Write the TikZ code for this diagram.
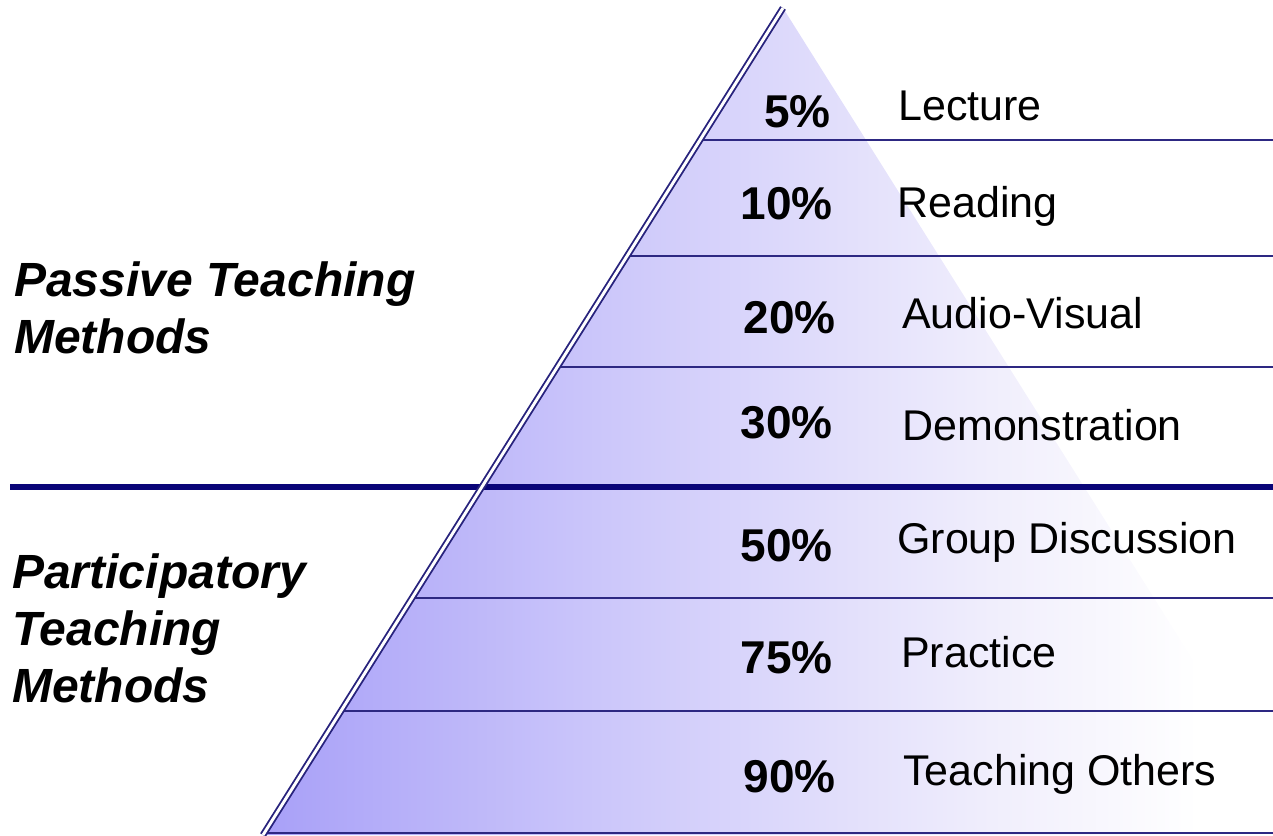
\documentclass[tikz,border=0pt]{standalone}
\usepackage{fontspec}
\setmainfont{Liberation Sans}
\definecolor{pyrfill}{RGB}{168,160,248}
\definecolor{pyrmid}{RGB}{203,198,250}
\definecolor{pyrlight}{RGB}{240,238,252}
\definecolor{thinline}{RGB}{45,40,130}
\definecolor{thickline}{RGB}{10,5,120}
\definecolor{edgeline}{RGB}{40,35,125}
\pgfdeclarehorizontalshading{pyrshade}{100bp}{color(0bp)=(pyrfill); color(25bp)=(pyrfill); color(41bp)=(pyrmid); color(60bp)=(pyrlight); color(70bp)=(white); color(100bp)=(white)}
\begin{document}
\begin{tikzpicture}[x=0.75pt,y=-0.75pt,
  pct/.style={inner sep=0pt,anchor=base east,font=\fontsize{34.5}{40}\selectfont\bfseries},
  lbl/.style={inner sep=0pt,anchor=base west,font=\fontsize{32.25}{38}\selectfont},
  grp/.style={inner sep=0pt,anchor=base west,align=left,font=\fontsize{36}{42.75}\selectfont\bfseries\itshape},
  thinrule/.style={draw=thinline,line width=1.6pt},
  thickrule/.style={draw=thickline,line width=4.4pt},
  edgerule/.style={draw=edgeline,line width=1.4pt,double=white,double distance=2.2pt}]
\useasboundingbox (0,0) rectangle (1273,835);
% pyramid
\coordinate (apex) at (783,8);
\coordinate (bl) at (263,835);
\coordinate (br) at (1303,835);
\shade[shading=pyrshade] (apex) -- (bl) -- (br) -- cycle;
% rule end points on the left edge
\coordinate (l1) at (700,140);
\coordinate (l2) at (627,256);
\coordinate (l3) at (557,367);
\coordinate (l4) at (10,487);
\coordinate (l5) at (412,598);
\coordinate (l6) at (341,711);
\coordinate (l7) at (265,833);
\coordinate (r1) at (1273,140);
\coordinate (r2) at (1273,256);
\coordinate (r3) at (1273,367);
\coordinate (r4) at (1273,487);
\coordinate (r5) at (1273,598);
\coordinate (r6) at (1273,711);
\coordinate (r7) at (1273,833);
\draw[thinrule] (l1) -- (r1);
\draw[thinrule] (l2) -- (r2);
\draw[thinrule] (l3) -- (r3);
\draw[thickrule] (l4) -- (r4);
\draw[thinrule] (l5) -- (r5);
\draw[thinrule] (l6) -- (r6);
\draw[thinrule] (l7) -- (r7);
\draw[edgerule] (apex) -- (bl);
% percentages
\node[pct] (p1) at (831,127) {5\%};
\node[pct] (p2) at (833,219) {10\%};
\node[pct] (p3) at (836,333) {20\%};
\node[pct] (p4) at (833,438) {30\%};
\node[pct] (p5) at (833,561) {50\%};
\node[pct] (p6) at (833,673) {75\%};
\node[pct] (p7) at (836,792) {90\%};
% methods
\node[lbl] (m1) at (898,120) {Lecture};
\node[lbl] (m2) at (897,217) {Reading};
\node[lbl] (m3) at (902,328) {Audio-Visual};
\node[lbl] (m4) at (902,440) {Demonstration};
\node[lbl] (m5) at (897,553) {Group Discussion};
\node[lbl] (m6) at (901,667) {Practice};
\node[lbl] (m7) at (903,785) {Teaching Others};
% groups
\node[grp] (g1) at (14,353) {Passive Teaching\\Methods};
\node[grp] (g2) at (12,702) {Participatory\\Teaching\\Methods};
\end{tikzpicture}
\end{document}
